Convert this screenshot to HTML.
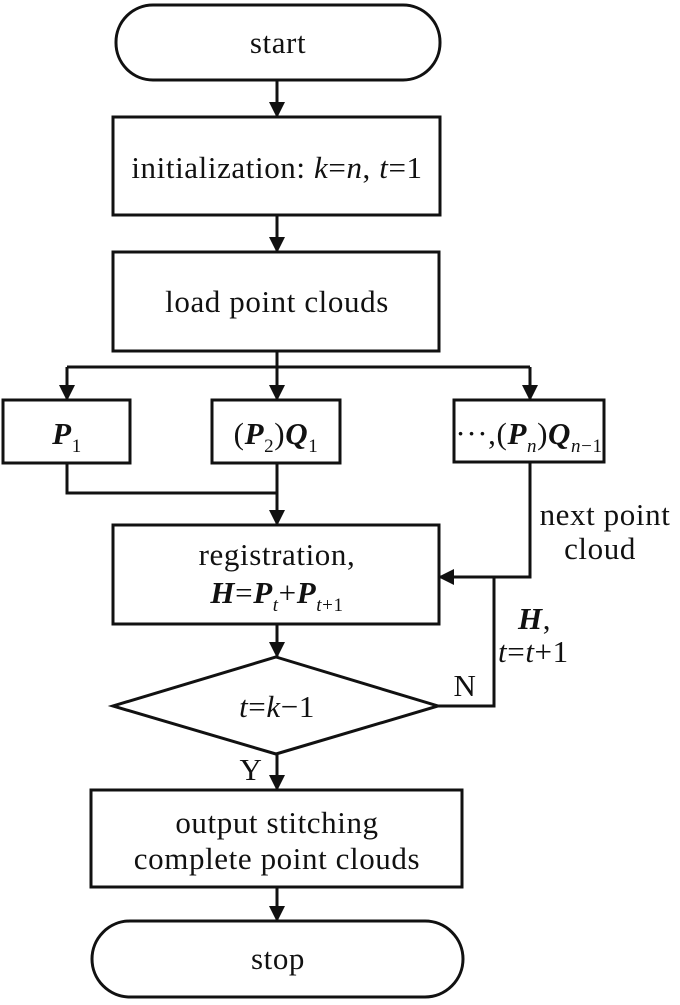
<!DOCTYPE html>
<html><head><meta charset="utf-8"><style>
html,body{margin:0;padding:0;background:#fff;}
svg text{font-family:"Liberation Serif",serif;fill:#111;letter-spacing:0.6px;}
</style></head><body>
<svg width="680" height="1000" viewBox="0 0 680 1000" xmlns="http://www.w3.org/2000/svg">
<defs>
<marker id="b" viewBox="0 0 16 16" markerWidth="16" markerHeight="16" refX="15" refY="8" orient="auto" markerUnits="userSpaceOnUse"><path d="M0,0 L16,8 L0,16 z" fill="#111"/></marker></defs>
<g fill="none" stroke="#111" stroke-width="3">
<rect x="116" y="5" width="324" height="75" rx="37"/>
<rect x="113" y="117" width="327" height="98"/>
<rect x="113" y="252" width="326" height="99"/>
<rect x="3" y="400" width="127" height="63"/>
<rect x="212" y="400" width="128" height="63"/>
<rect x="454" y="400" width="150" height="62"/>
<rect x="113" y="525" width="326" height="99"/>
<polygon points="276,657 438,706 276,754 113,706"/>
<rect x="91" y="790" width="371" height="97"/>
<rect x="92" y="921" width="371" height="76" rx="38"/>
<g marker-end="url(#b)">
<line x1="277" y1="80" x2="277" y2="117"/>
<line x1="277" y1="215" x2="277" y2="252"/>
<line x1="67" y1="367" x2="67" y2="400"/>
<line x1="277" y1="351" x2="277" y2="400"/>
<line x1="530" y1="367" x2="530" y2="400"/>
<line x1="277" y1="493" x2="277" y2="525"/>
<polyline points="530,462 530,577 439,577"/>
<line x1="277" y1="624" x2="277" y2="657"/>
<line x1="277" y1="754" x2="277" y2="790"/>
<line x1="277" y1="887" x2="277" y2="921"/>
</g>
<line x1="67" y1="367" x2="530" y2="367"/>
<polyline points="67,463 67,493 277,493"/>
<line x1="277" y1="463" x2="277" y2="493"/>
<polyline points="438,706 494,706 494,577"/>
</g>
<g font-size="31" text-anchor="middle">
<text x="278" y="53">start</text>
<text x="277" y="178">initialization: <tspan font-style="italic">k</tspan>=<tspan font-style="italic">n</tspan>, <tspan font-style="italic">t</tspan>=1</text>
<text x="277" y="312">load point clouds</text>
<text x="67" y="444"><tspan font-weight="bold" font-style="italic">P</tspan><tspan font-size="19" dy="8">1</tspan></text>
<text x="276" y="444">(<tspan font-weight="bold" font-style="italic">P</tspan><tspan font-size="19" dy="8">2</tspan><tspan dy="-8">)</tspan><tspan font-weight="bold" font-style="italic">Q</tspan><tspan font-size="19" dy="8">1</tspan></text>
<text x="529" y="444" letter-spacing="0">···,(<tspan font-weight="bold" font-style="italic">P</tspan><tspan font-size="19" font-style="italic" dy="8">n</tspan><tspan dy="-8">)</tspan><tspan font-weight="bold" font-style="italic">Q</tspan><tspan font-size="19" font-style="italic" dy="8">n</tspan><tspan font-size="19">−1</tspan></text>
<text x="277" y="565">registration,</text>
<text x="277" y="603"><tspan font-weight="bold" font-style="italic">H</tspan>=<tspan font-weight="bold" font-style="italic">P</tspan><tspan font-size="19" font-style="italic" dy="8">t</tspan><tspan dy="-8">+</tspan><tspan font-weight="bold" font-style="italic">P</tspan><tspan font-size="19" dy="8"><tspan font-style="italic">t</tspan>+1</tspan></text>
<text x="277" y="717"><tspan font-style="italic">t</tspan>=<tspan font-style="italic">k</tspan>−1</text>
<text x="277" y="833">output stitching</text>
<text x="277" y="869">complete point clouds</text>
<text x="278" y="969">stop</text>
<text x="605" y="525">next point</text>
<text x="600" y="559">cloud</text>
<text x="518" y="629" text-anchor="start"><tspan font-weight="bold" font-style="italic">H</tspan>,</text>
<text x="498" y="662" text-anchor="start"><tspan font-style="italic">t</tspan>=<tspan font-style="italic">t</tspan>+1</text>
<text x="465" y="696">N</text>
<text x="251" y="780">Y</text>
</g>
</svg>
</body></html>
